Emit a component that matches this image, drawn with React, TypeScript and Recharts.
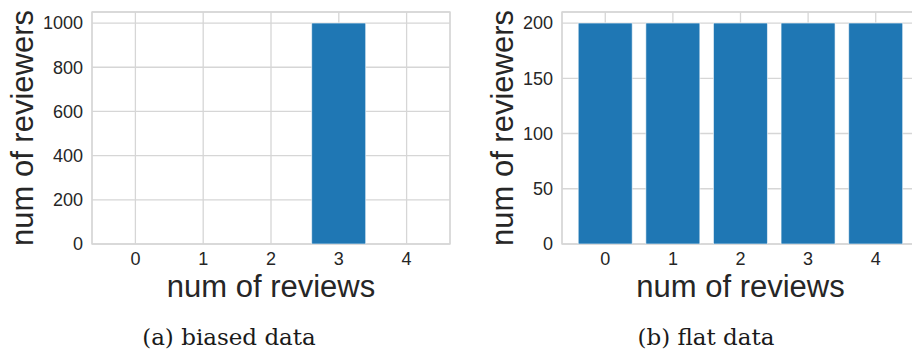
import { BarChart, Bar, XAxis, YAxis, CartesianGrid, ReferenceArea } from 'recharts';

const reviewCounts = [0, 1, 2, 3, 4];
const biasedReviewers = [0, 0, 0, 1000, 0];
const flatReviewers = [200, 200, 200, 200, 200];
const biasedTicks = [0, 200, 400, 600, 800, 1000];
const flatTicks = [0, 50, 100, 150, 200];
const captions = ['(a) biased data', '(b) flat data'];

// matplotlib-style x limits: bars of width 0.8 plus 5% margins
const X_MIN = -0.64;
const X_MAX = 4.64;

const INK = '#262626';
const GRID = '#d6d6d6';
const BLUE = '#1f77b4';
const SANS = '"Liberation Sans", Arial, sans-serif';

type PanelProps = {
    values: number[];
    yTicks: number[];
    yMax: number;
    left: number;
    width: number;
    yAxisWidth: number;
    labelOffset: number;
    marginRight: number;
};

function Panel({ values, yTicks, yMax, left, width, yAxisWidth, labelOffset, marginRight }: PanelProps) {
    const rows = reviewCounts.map((c, i) => ({ reviews: c, reviewers: values[i] }));
    return (
        <div style={{ position: 'absolute', left, top: 0 }}>
            <BarChart
                width={width}
                height={312}
                data={rows}
                margin={{ top: 12, right: marginRight, left: 0, bottom: 12 }}
                barCategoryGap="10%"
            >
                <CartesianGrid stroke={GRID} strokeWidth={1.3} horizontal vertical />
                <XAxis
                    dataKey="reviews"
                    type="number"
                    domain={[X_MIN, X_MAX]}
                    ticks={reviewCounts}
                    allowDataOverflow
                    axisLine={false}
                    tickLine={false}
                    tick={{ fill: INK, fontSize: 18, fontFamily: SANS }}
                    tickMargin={2}
                    height={56}
                    label={{
                        value: 'num of reviews',
                        position: 'insideBottom',
                        offset: 3,
                        fill: INK,
                        fontSize: 31,
                        fontFamily: SANS,
                    }}
                />
                <YAxis
                    type="number"
                    domain={[0, yMax]}
                    ticks={yTicks}
                    allowDataOverflow
                    axisLine={false}
                    tickLine={false}
                    tick={{ fill: INK, fontSize: 18, fontFamily: SANS }}
                    tickMargin={3}
                    width={yAxisWidth}
                    label={{
                        value: 'num of reviewers',
                        angle: -90,
                        position: 'insideLeft',
                        textAnchor: 'middle',
                        offset: labelOffset,
                        fill: INK,
                        fontSize: 31,
                        fontFamily: SANS,
                    }}
                />
                <ReferenceArea
                    x1={X_MIN}
                    x2={X_MAX}
                    y1={0}
                    y2={yMax}
                    fill="none"
                    stroke={GRID}
                    strokeWidth={1.3}
                    fillOpacity={0}
                />
                <Bar dataKey="reviewers" fill={BLUE} stroke="#ffffff" strokeWidth={0.6} isAnimationActive={false} />
            </BarChart>
        </div>
    );
}

export default function App() {
    return (
        <div
            style={{
                position: 'absolute',
                left: 0,
                top: 0,
                width: 912,
                height: 359,
                overflow: 'hidden',
                background: '#ffffff',
            }}
        >
            <Panel
                values={biasedReviewers}
                yTicks={biasedTicks}
                yMax={1050}
                left={0}
                width={460}
                yAxisWidth={92}
                labelOffset={22}
                marginRight={10}
            />
            <Panel
                values={flatReviewers}
                yTicks={flatTicks}
                yMax={210}
                left={460}
                width={470}
                yAxisWidth={102}
                labelOffset={42}
                marginRight={11}
            />
            {captions.map((text, i) => (
                <div
                    key={text}
                    style={{
                        position: 'absolute',
                        left: i === 0 ? 129 : 606,
                        top: 323,
                        width: 200,
                        textAlign: 'center',
                        fontFamily: '"DejaVu Serif", serif',
                        fontSize: 23,
                        lineHeight: '28px',
                        color: '#1a1a1a',
                        whiteSpace: 'nowrap',
                    }}
                >
                    {text}
                </div>
            ))}
        </div>
    );
}
